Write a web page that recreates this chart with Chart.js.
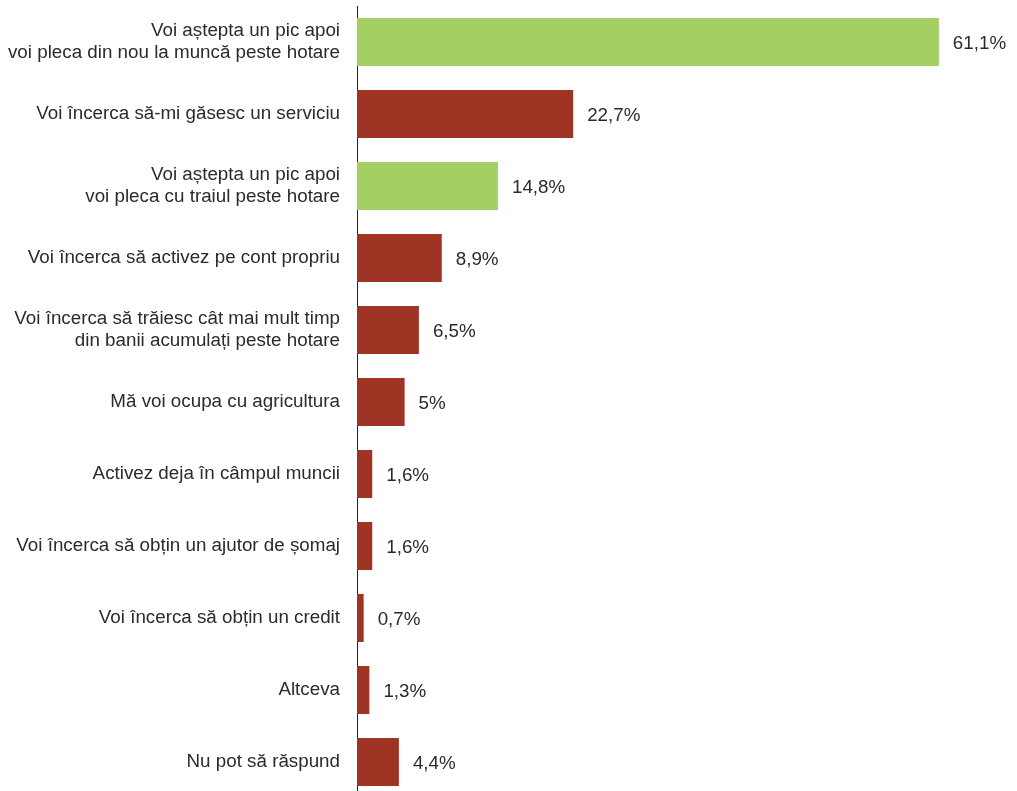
<!DOCTYPE html>
<html lang="ro">
<head>
<meta charset="utf-8">
<title>Intenții după revenire</title>
<script src="https://cdn.jsdelivr.net/npm/chart.js@4/dist/chart.umd.min.js"></script>
<style>
  html, body { margin: 0; padding: 0; background: #fff; overflow: hidden; }
  canvas { display: block; }
</style>
</head>
<body>
<canvas id="graficIntentii" width="1017" height="798"></canvas>
<script>
const categorii = [
  ["Voi aștepta un pic apoi", "voi pleca din nou la muncă peste hotare"],
  "Voi încerca să-mi găsesc un serviciu",
  ["Voi aștepta un pic apoi", "voi pleca cu traiul peste hotare"],
  "Voi încerca să activez pe cont propriu",
  ["Voi încerca să trăiesc cât mai mult timp", "din banii acumulați peste hotare"],
  "Mă voi ocupa cu agricultura",
  "Activez deja în câmpul muncii",
  "Voi încerca să obțin un ajutor de șomaj",
  "Voi încerca să obțin un credit",
  "Altceva",
  "Nu pot să răspund"
];

const procente = [61.1, 22.7, 14.8, 8.9, 6.5, 5, 1.6, 1.6, 0.7, 1.3, 4.4];

// bare verzi = plecare peste hotare
const plecare = [true, false, true, false, false, false, false, false, false, false, false];

const verde = "#a3cf63";
const rosu = "#a03424";
const fontText = "'Liberation Sans', Arial, Helvetica, sans-serif";

function formatProcent(valoare) {
  return String(valoare).replace(".", ",") + "%";
}

const etichetePlugin = {
  id: "eticheteValori",
  afterDatasetsDraw(chart) {
    const ctx = chart.ctx;
    const meta = chart.getDatasetMeta(0);
    ctx.save();
    ctx.font = "18.8px " + fontText;
    ctx.fillStyle = "#2b2b2b";
    ctx.textAlign = "left";
    ctx.textBaseline = "middle";
    meta.data.forEach((bara, i) => {
      ctx.fillText(formatProcent(procente[i]), bara.x + 14, bara.y + 2);
    });
    ctx.restore();
  }
};

new Chart(document.getElementById("graficIntentii"), {
  type: "bar",
  data: {
    labels: categorii,
    datasets: [{
      data: procente,
      backgroundColor: plecare.map((p) => (p ? verde : rosu)),
      borderWidth: 0,
      categoryPercentage: 1,
      barPercentage: 0.667
    }]
  },
  options: {
    indexAxis: "y",
    responsive: false,
    animation: false,
    layout: { padding: { top: 6, bottom: 0, left: 0, right: 41 } },
    plugins: {
      legend: { display: false },
      tooltip: { enabled: false }
    },
    scales: {
      x: {
        display: false,
        min: 0,
        max: 65
      },
      y: {
        afterFit: (axa) => {
          axa.width = 357;
          axa.paddingTop = 0;
          axa.paddingBottom = 0;
        },
        grid: { display: false, drawTicks: false },
        border: { display: true, color: "#222", width: 1 },
        ticks: {
          color: "#2b2b2b",
          padding: 17,
          autoSkip: false,
          font: { family: fontText, size: 18.8, lineHeight: 1.2 }
        }
      }
    }
  },
  plugins: [etichetePlugin]
});
</script>
</body>
</html>
